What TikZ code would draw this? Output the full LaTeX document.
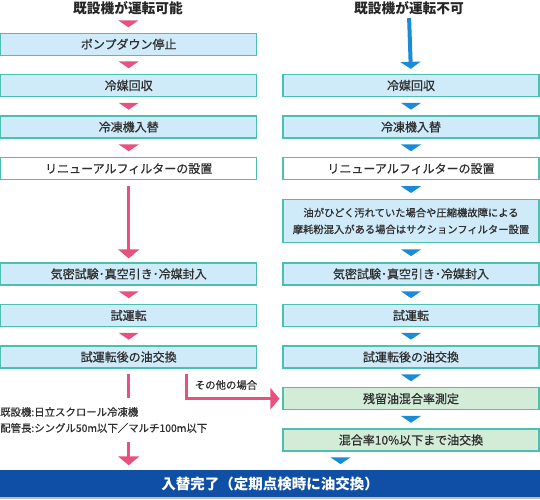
\documentclass[tikz,border=0pt]{standalone}
\usepackage{fontspec}
\setmainfont{Noto Sans CJK JP}[UprightFeatures={FakeBold=0.6}]
\usetikzlibrary{arrows.meta,calc}
\definecolor{boxblue}{HTML}{CFEAF8}
\definecolor{boxgreen}{HTML}{D3ECD8}
\definecolor{bordc}{HTML}{4CBFB1}
\definecolor{pinkc}{HTML}{E8507E}
\definecolor{bluec}{HTML}{1A8BD6}
\definecolor{navyc}{HTML}{0F4FA6}
\definecolor{txtc}{HTML}{2E2E2E}
\newcommand\flowtri[3]{\fill[#1] ($(#2.south)!0.5!(#3.north)$) +(-10,-3.4) -- +(10,-3.4) -- +(0,3.4) -- cycle;}
\begin{document}
\begin{tikzpicture}[x=1pt,y=-1pt,
  box/.style={draw=bordc, line width=1.3pt, fill=boxblue, minimum width=255.8pt,
    minimum height=22pt, inner sep=0pt, text=txtc, font=\fontsize{12}{14}\selectfont},
  whitebox/.style={box, fill=white},
  greenbox/.style={box, fill=boxgreen},
  titletext/.style={inner sep=0pt, text height=0.88em, text depth=0.12em,
    font=\fontsize{13.7}{15}\selectfont\bfseries, text=black!85},
  pinkline/.style={draw=pinkc, line width=3pt},
  pinkarrow/.style={pinkline, -{Triangle[width=21pt,length=9pt]}},
  bluearrow/.style={draw=bluec, line width=4pt, -{Triangle[width=20pt,length=7pt]}},
  smalltext/.style={inner sep=0pt, text=txtc, font=\fontsize{10.4}{16}\selectfont},
  bar/.style={fill=navyc, minimum width=540pt, minimum height=27pt, inner sep=0pt,
    text=white, font=\fontsize{14.5}{16}\selectfont\bfseries}]
\useasboundingbox (0,0) rectangle (540,499);

% titles
\node[titletext] (tl) at (128,10) {既設機が運転可能};
\node[titletext] (tr) at (409,10) {既設機が運転不可};

% left column
\node[box] (l1) at (128.7,44.2) {ポンプダウン停止};
\node[box] (l2) at (128.7,85.5) {冷媒回収};
\node[box] (l3) at (128.7,127) {冷凍機入替};
\node[whitebox] (l4) at (128.7,168.7) {リニューアルフィルターの設置};
\node[box] (l5) at (128.7,274) {気密試験･真空引き･冷媒封入};
\node[box] (l6) at (128.7,315.5) {試運転};
\node[box] (l7) at (128.7,357) {試運転後の油交換};

% right column
\node[box] (r1) at (411,85.5) {冷媒回収};
\node[box] (r2) at (411,127) {冷凍機入替};
\node[whitebox] (r3) at (411,168.7) {リニューアルフィルターの設置};
\node[box, minimum height=43pt, align=center, font=\fontsize{10.3}{16.7}\selectfont] (r4) at (411,221)
  {油がひどく汚れていた場合や圧縮機故障による\\摩耗粉混入がある場合はサクションフィルター設置};
\node[box] (r5) at (411,274) {気密試験･真空引き･冷媒封入};
\node[box] (r6) at (411,315.5) {試運転};
\node[box] (r7) at (411,357) {試運転後の油交換};
\node[greenbox] (r8) at (411,398.7) {残留油混合率測定};
\node[greenbox] (r9) at (411,440) {混合率10\%以下まで油交換};

% bottom bar
\fill[black!25] (0,497) rectangle (540,499);
\node[bar] (bar) at (270,483.5) {入替完了（定期点検時に油交換）};

% notes
\node[smalltext, anchor=west, align=left, inner ysep=8.7pt] (notes) at (0,420)
  {既設機:日立スクロール冷凍機\\配管長:シングル50m以下／マルチ100m以下};
\coordinate (elbx) at (186,0);
\node[smalltext] (other) at (226,385) {その他の場合};

% left triangles
\flowtri{pinkc}{tl}{l1}
\flowtri{pinkc}{l1}{l2}
\flowtri{pinkc}{l2}{l3}
\flowtri{pinkc}{l3}{l4}
\flowtri{pinkc}{l5}{l6}
\flowtri{pinkc}{l6}{l7}
\draw[pinkarrow, shorten <=5.5pt, shorten >=4pt] (l4.south) -- (l5.north);
\draw[pinkline, shorten <=5.5pt] (l7.south) -- (l7.south |- notes.north);
\draw[pinkarrow, shorten >=4.5pt] (l7.south |- notes.south) -- (l7.south |- bar.north);
\draw[pinkarrow, shorten <=5.5pt, shorten >=3pt] (l7.south -| elbx) |- (r8.west);

% right triangles
\draw[bluearrow, shorten <=3pt, shorten >=5pt] (tr.south) -- (r1.north);
\flowtri{bluec}{r1}{r2}
\flowtri{bluec}{r2}{r3}
\flowtri{bluec}{r3}{r4}
\flowtri{bluec}{r4}{r5}
\flowtri{bluec}{r5}{r6}
\flowtri{bluec}{r6}{r7}
\flowtri{bluec}{r7}{r8}
\flowtri{bluec}{r8}{r9}
\flowtri{bluec}{r9}{bar}
\end{tikzpicture}
\end{document}
